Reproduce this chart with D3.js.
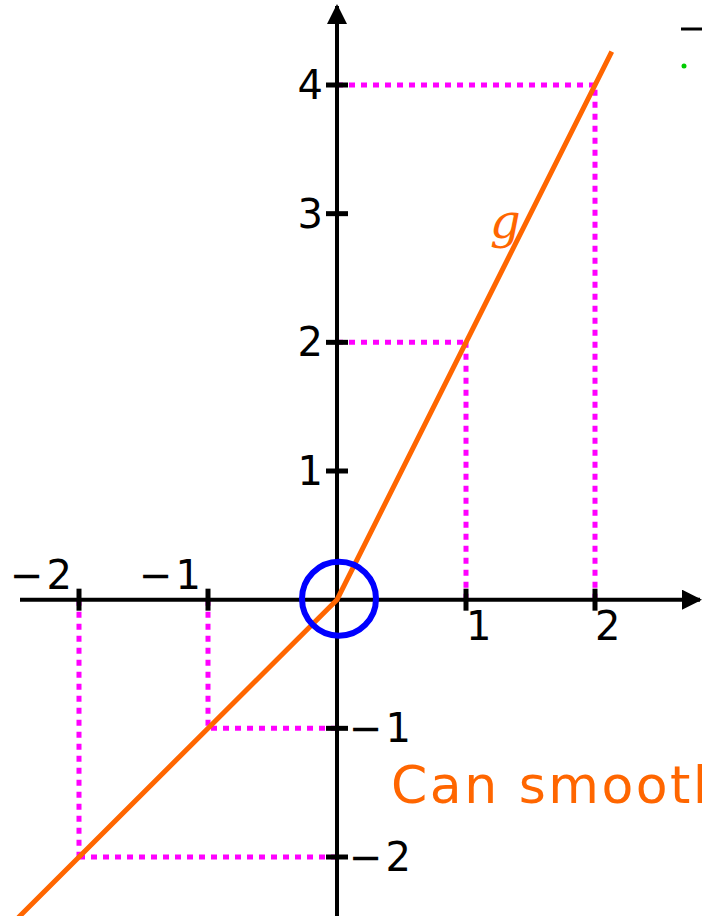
<!DOCTYPE html>
<html>
<head>
<meta charset="utf-8">
<style>
  body { margin: 0; background: #fff; }
  text { font-family: "DejaVu Sans", sans-serif; }
</style>
</head>
<body>
<svg id="chart" width="702" height="916"></svg>
<script src="https://cdn.jsdelivr.net/npm/d3@7"></script>
<script>
// g(x) = x for x < 0, 2x for x > 0
const curveX = [-2.47, 0, 2.13]
const curveY = [-2.47, 0, 4.26]
// points marked with dotted guides
const markX = [-2, -1, 1, 2]
const markY = [-2, -1, 2, 4]
const xTicks = [-2, -1, 1, 2]
const yTicks = [-2, -1, 1, 2, 3, 4]

const svg = d3.select("#chart")
const x = d3.scaleLinear().domain([-2, 2]).range([79, 595])
const y = d3.scaleLinear().domain([-2, 4]).range([857, 85])

const orange = "#ff6600", magenta = "#ff00ff"

svg.append("defs").append("marker")
    .attr("id", "arrow").attr("viewBox", "0 0 10 10")
    .attr("refX", 9).attr("refY", 5)
    .attr("markerWidth", 5).attr("markerHeight", 5)
    .attr("markerUnits", "strokeWidth")
    .attr("orient", "auto")
  .append("path").attr("d", "M0,0 L10,5 L0,10 Z").attr("fill", "black")

// dotted guides
let guides = svg.append("g")
    .attr("stroke", magenta).attr("stroke-width", 5)
    .attr("stroke-dasharray", "6,6").attr("fill", "none")
markX.forEach((mx, i) => {
  guides.append("line").attr("x1", x(mx)).attr("x2", x(mx)).attr("y1", y(0)).attr("y2", y(markY[i]))
  guides.append("line").attr("x1", x(0)).attr("x2", x(mx)).attr("y1", y(markY[i])).attr("y2", y(markY[i]))
})

// axes
svg.append("line").attr("x1", 20).attr("x2", 700).attr("y1", y(0)).attr("y2", y(0))
  .attr("stroke", "black").attr("stroke-width", 4).attr("marker-end", "url(#arrow)")
svg.append("line").attr("x1", x(0)).attr("x2", x(0)).attr("y1", 916).attr("y2", 6)
  .attr("stroke", "black").attr("stroke-width", 4).attr("marker-end", "url(#arrow)")

svg.append("g").selectAll("line").data(xTicks).enter().append("line")
    .attr("x1", d => x(d)).attr("x2", d => x(d))
    .attr("y1", y(0) - 11).attr("y2", y(0) + 11)
    .attr("stroke", "black").attr("stroke-width", 5)
svg.append("g").selectAll("line").data(yTicks).enter().append("line")
    .attr("x1", x(0) - 11).attr("x2", x(0) + 11)
    .attr("y1", d => y(d)).attr("y2", d => y(d))
    .attr("stroke", "black").attr("stroke-width", 5)

const fmt = d => d < 0 ? "\u2212" + (-d) : String(d)
svg.append("g").selectAll("text").data(xTicks).enter().append("text")
    .attr("x", d => x(d) + (d < 0 ? -4 : 0))
    .attr("y", d => d < 0 ? y(0) - 11 : y(0) + 40)
    .attr("text-anchor", d => d < 0 ? "end" : "start")
    .attr("font-size", 40)
    .attr("letter-spacing", d => d < 0 ? 3 : 0)
    .text(fmt)
svg.append("g").selectAll("text").data(yTicks).enter().append("text")
    .attr("x", d => d < 0 ? x(0) + 12 : x(0) - 14)
    .attr("y", d => y(d) + 14)
    .attr("text-anchor", d => d < 0 ? "start" : "end")
    .attr("font-size", 40)
    .attr("letter-spacing", d => d < 0 ? 3 : 0)
    .text(fmt)

// the function
const line = d3.line().x(d => x(d[0])).y(d => y(d[1]))
svg.append("path").datum(d3.zip(curveX, curveY))
    .attr("d", line).attr("fill", "none")
    .attr("stroke", orange).attr("stroke-width", 5)

svg.append("circle").attr("cx", x(0) + 2).attr("cy", y(0) - 1).attr("r", 37)
    .attr("fill", "none").attr("stroke", "#0000ff").attr("stroke-width", 6)

svg.append("text").attr("x", 490).attr("y", 238)
    .style("font-family", "'DejaVu Serif', serif").style("font-style", "italic")
    .attr("font-size", 48).attr("fill", orange).text("g")

svg.append("text").attr("x", 391).attr("y", 803)
    .attr("font-size", 52).attr("letter-spacing", 2.5).attr("fill", orange).text("Can smooth")

// cut-off legend at the top right
svg.append("line").attr("x1", 681).attr("x2", 702).attr("y1", 29).attr("y2", 29)
    .attr("stroke", "black").attr("stroke-width", 3)
svg.append("circle").attr("cx", 684).attr("cy", 66).attr("r", 2.5).attr("fill", "#00cc00")
</script>
</body>
</html>
